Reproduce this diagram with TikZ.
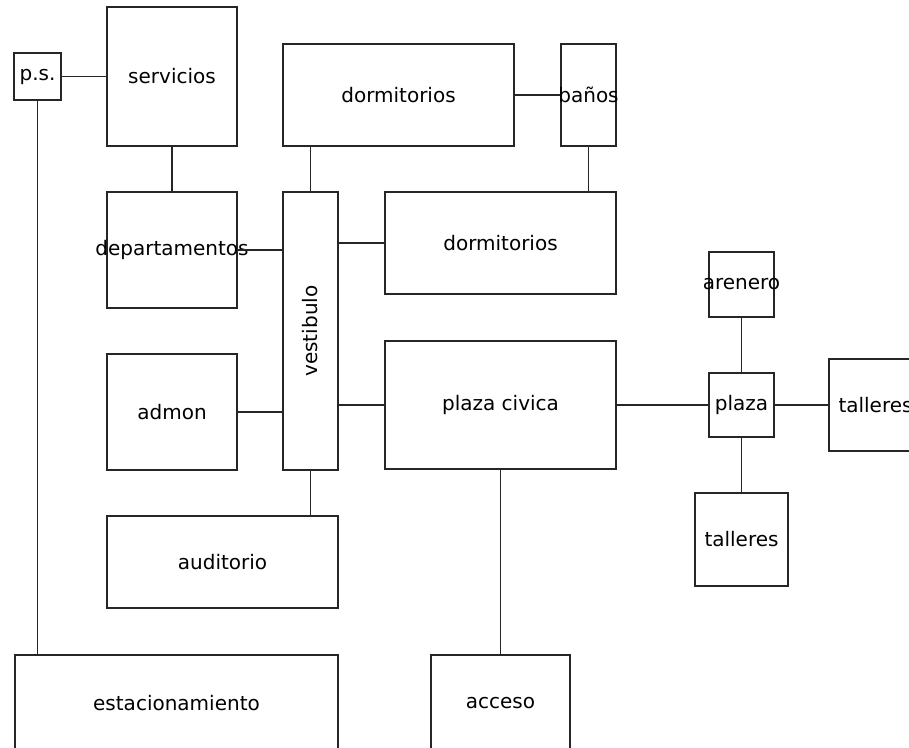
\documentclass[tikz,border=0pt]{standalone}
\usepackage{fontspec}
\newfontfamily\roomfont{DejaVu Sans}
\begin{document}
\begin{tikzpicture}[x=1pt,y=-1pt,
  room/.style={draw=black!85, line width=1.3pt, inner sep=0pt, font=\roomfont\fontsize{20}{23}\selectfont},
  link/.style={draw=black!85, line width=1.3pt}]
\clip (0,0) rectangle (909,747);
\useasboundingbox (0,0) rectangle (909,747);
\fill[white] (0,0) rectangle (909,747);

% rooms (centre, width x height in px)
\node[room, minimum width=47,  minimum height=47]  (ps)    at (37.5,76.5)  {\makebox[0pt]{p.s.}};
\node[room, minimum width=130, minimum height=139] (serv)  at (172,76.5)   {\makebox[0pt]{servicios}};
\node[room, minimum width=130, minimum height=116] (dept)  at (172,250)    {\makebox[0pt]{departamentos}};
\node[room, minimum width=130, minimum height=116] (admon) at (172,412)    {\makebox[0pt]{admon}};
\node[room, minimum width=55,  minimum height=278] (vest)  at (310.5,331)  {\rotatebox{90}{\makebox[0pt]{vestibulo}}};
\node[room, minimum width=231, minimum height=92]  (aud)   at (222.5,562)  {\makebox[0pt]{auditorio}};
\node[room, minimum width=231, minimum height=102] (dorma) at (398.5,95)   {\makebox[0pt]{dormitorios}};
\node[room, minimum width=55,  minimum height=102] (banos) at (588.5,95)   {\makebox[0pt]{baños}};
\node[room, minimum width=231, minimum height=102] (dormb) at (500.5,243)  {\makebox[0pt]{dormitorios}};
\node[room, minimum width=231, minimum height=128] (pc)    at (500.5,405)  {\makebox[0pt]{plaza civica}};
\node[room, minimum width=65,  minimum height=65]  (aren)  at (741.5,284.5) {\makebox[0pt]{arenero}};
\node[room, minimum width=65,  minimum height=64]  (plaza) at (741.5,405)  {\makebox[0pt]{plaza}};
\node[room, minimum width=93,  minimum height=92]  (tallr) at (875.5,405)  {\makebox[0pt]{talleres}};
\node[room, minimum width=93,  minimum height=93]  (tallb) at (741.5,539.5) {\makebox[0pt]{talleres}};
\node[room, minimum width=323, minimum height=96]  (estac) at (176.5,703)  {\makebox[0pt]{estacionamiento}};
\node[room, minimum width=139, minimum height=96]  (acc)   at (500.5,703)  {\makebox[0pt]{acceso}};

% connections
\draw[link] (ps.east) -- (ps.east -| serv.west);
\draw[link] (ps.south) -- (ps.south |- estac.north);
\draw[link] (serv.south) -- (dept.north);
\draw[link] (dept.east) -- (dept.east -| vest.west);
\draw[link] (admon.east) -- (admon.east -| vest.west);
\draw[link] (dormb.west) -- (dormb.west -| vest.east);
\draw[link] (pc.west) -- (pc.west -| vest.east);
\draw[link] (vest.north) -- (vest.north |- dorma.south);
\draw[link] (vest.south) -- (vest.south |- aud.north);
\draw[link] (dorma.east) -- (dorma.east -| banos.west);
\draw[link] (banos.south) -- (banos.south |- dormb.north);
\draw[link] (pc.south) -- (acc.north);
\draw[link] (pc.east) -- (plaza.west);
\draw[link] (plaza.east) -- (plaza.east -| tallr.west);
\draw[link] (aren.south) -- (plaza.north);
\draw[link] (plaza.south) -- (plaza.south |- tallb.north);
\end{tikzpicture}
\end{document}
